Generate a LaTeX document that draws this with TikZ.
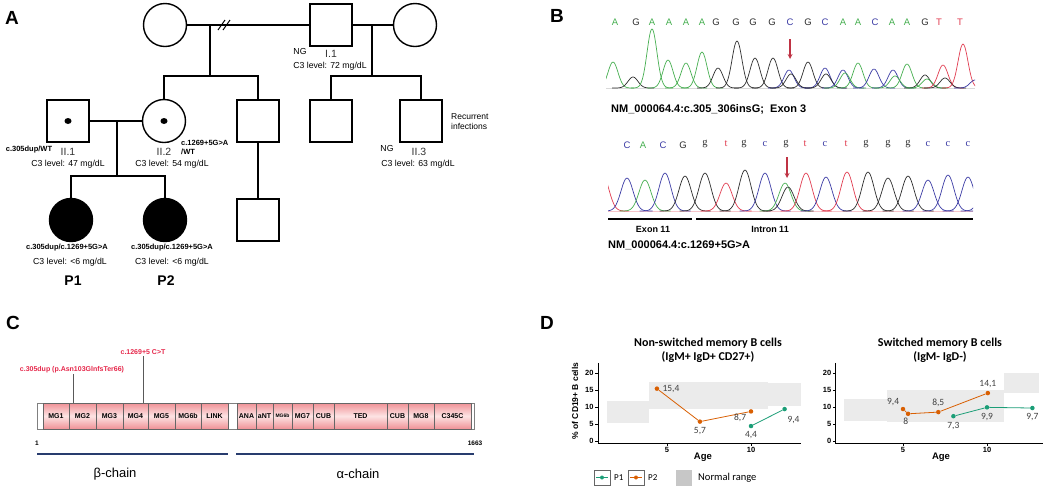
\documentclass[tikz,border=0pt]{standalone}
\usepackage{fontspec}
\setmainfont{Liberation Sans}
\newfontfamily\calfont{Carlito}
\newfontfamily\serfont{Liberation Serif}
\usetikzlibrary{positioning}

\definecolor{agreen}{RGB}{70,175,80}
\definecolor{cblue}{RGB}{60,60,165}
\definecolor{tred}{RGB}{225,60,80}
\definecolor{gdark}{RGB}{45,45,45}
\definecolor{domedge}{RGB}{240,145,150}
\definecolor{dommid}{RGB}{253,228,228}
\definecolor{mutred}{RGB}{230,40,75}
\definecolor{chainblue}{RGB}{40,60,110}
\definecolor{ptone}{RGB}{27,158,119}
\definecolor{pttwo}{RGB}{217,95,2}
\definecolor{normgray}{RGB}{235,235,235}

\newcommand{\fs}[1]{\fontsize{#1}{#1}\selectfont}

% one chromatogram: baseline, peak width, list of centre/height/colour
\newcommand{\trace}[3]{%
  \foreach \c/\h/\col in {#3}{%
    \pgfmathsetmacro{\lo}{\c-3*#2}%
    \pgfmathsetmacro{\hi}{\c+3*#2}%
    \draw[\col, line width=0.7pt] plot[domain=\lo:\hi, samples=40, smooth] (\x,{#1-\h*exp(-((\x-\c)/#2)^2)});
  }}

\tikzset{
  ped/.style={line width=1.4pt},
  male/.style={ped, draw, minimum size=42pt, inner sep=0pt},
  female/.style={ped, draw, circle, minimum size=43pt, inner sep=0pt},
  sick/.style={fill=black},
  panel/.style={font=\bfseries\fs{19}, inner sep=0pt},
  gen/.style={font=\fs{10.5}, text=black!80, inner sep=0pt},
  c3/.style={font=\fs{8.7}, inner sep=0pt},
  geno/.style={font=\bfseries\fs{7.5}, inner sep=0pt},
  patient/.style={font=\bfseries\fs{14}, inner sep=0pt},
  seq/.style={font=\fs{9.5}, inner sep=0pt},
  capt/.style={font=\bfseries\fs{11}, anchor=west, inner sep=0pt},
  exlbl/.style={font=\bfseries\fs{9}, inner sep=0pt},
  dom/.style={draw=black!60, top color=domedge, bottom color=domedge, middle color=dommid},
  domlbl/.style={font=\bfseries\fs{7}, inner sep=0pt},
  mut/.style={font=\bfseries\fs{7}, text=mutred, inner sep=1pt},
  chain/.style={chainblue, line width=1.1pt},
  axis/.style={line width=0.8pt},
  tick/.style={font=\bfseries\fs{7.5}, inner sep=1.5pt},
  dot/.style={circle, fill, inner sep=0pt, minimum size=4.5pt},
  val/.style={font=\calfont\fs{9.5}, text=black!75, inner sep=1pt},
  ttl/.style={font=\calfont\bfseries\fs{12}, inner sep=0pt},
}

\begin{document}
\begin{tikzpicture}[x=1pt, y=-1pt]
  \fill[white] (0,0) rectangle (1053,491);
  \useasboundingbox (0,0) rectangle (1053,491);

  % ---------------- A: pedigree
  \node[panel] (pa) at (12,18) {A};

  \node[female] (gm) at (165,25) {};
  \node[male] (I1) at (331,25) {};
  \node[female] (w2) at (415,25) {};
  \draw[ped] (gm) -- (I1);
  \draw[line width=1pt] (218,30) -- (225,20) (223,30) -- (230,20);
  \draw[ped] (I1) -- (w2);

  \node[male] (II1) at (68,121) {};
  \node[female] (II2) at (164,121) {};
  \node[male] (u1) at (258,121) {};
  \node[male] (b1) at (331,121) {};
  \node[male] (II3) at (421,121) {};
  \node[female, sick] (P1) at (71,220) {};
  \node[female, sick] (P2) at (165,220) {};
  \node[male] (u2) at (258,220) {};
  \fill (II1.center) ellipse[x radius=3.5pt, y radius=3pt];
  \fill (II2.center) ellipse[x radius=3.5pt, y radius=3pt];

  \coordinate (m1) at (210,25);
  \coordinate (s1) at (210,76);
  \draw[ped] (m1) -- (s1);
  \draw[ped] (II2) |- (s1) -| (u1);
  \coordinate (m2) at (372,25);
  \coordinate (s2) at (372,76);
  \draw[ped] (m2) -- (s2);
  \draw[ped] (b1) |- (s2) -| (II3);
  \draw[ped] (II1) -- (II2);
  \coordinate (m3) at (117,121);
  \coordinate (s3) at (117,176);
  \draw[ped] (m3) -- (s3);
  \draw[ped] (P1) |- (s3) -| (P2);
  \draw[ped] (u1) -- (u2);

  \node[c3] (ngI1) at (300,52) {NG};
  \node[gen] (lI1) at (331,54) {I.1};
  \node[c3] (c3I1) at (330,66) {C3 level: 72 mg/dL};
  \node[geno] (gII1) at (29,150) {c.305dup/WT};
  \node[gen] (lII1) at (68,152) {II.1};
  \node[c3] (c3II1) at (68,164) {C3 level: 47 mg/dL};
  \node[gen] (lII2) at (164,152) {II.2};
  \node[geno, anchor=west, align=left] (gII2) at (181,147.5) {c.1269+5G>A\\[1.5pt]/WT};
  \node[c3] (c3II2) at (172,164) {C3 level: 54 mg/dL};
  \node[c3] (ngII3) at (387,148) {NG};
  \node[gen] (lII3) at (419,152) {II.3};
  \node[c3] (c3II3) at (418,164) {C3 level: 63 mg/dL};
  \node[font=\fs{8.5}, anchor=west, align=left, inner sep=0pt] (rec) at (451,122) {Recurrent\\[1.5pt]infections};
  \node[geno] (gP1) at (67,248) {c.305dup/c.1269+5G>A};
  \node[c3] (c3P1) at (70,262) {C3 level: <6 mg/dL};
  \node[patient] (nP1) at (73,281) {P1};
  \node[geno] (gP2) at (172,248) {c.305dup/c.1269+5G>A};
  \node[c3] (c3P2) at (172,262) {C3 level: <6 mg/dL};
  \node[patient] (nP2) at (166,281) {P2};

  % ---------------- B: chromatograms
  \node[panel] (pb) at (557,16) {B};
  \foreach \lx/\lt/\col in {615/A/agreen, 636/G/gdark, 652/A/agreen, 669/A/agreen, 686/A/agreen,
      702/A/agreen, 716/G/gdark, 736/G/gdark, 753/G/gdark, 772/G/gdark, 790/C/cblue, 808/G/gdark,
      825/C/cblue, 843/A/agreen, 858/A/agreen, 875/C/cblue, 892/A/agreen, 907/A/agreen, 925/G/gdark,
      939/T/tred, 960/T/tred}
    \node[seq, text=\col] (ta\lx) at (\lx,22) {\lt};
  \draw[black!15] (606,88) -- (975,88);
  \begin{scope}
    \clip (606,20) rectangle (975,90);
    \trace{88}{7}{613/26/agreen, 633/11/gdark, 652/59/agreen, 668/28/agreen, 686/25/agreen,
      702/36/agreen, 718/20/gdark, 737/47/gdark, 755/30/gdark, 773/30/gdark, 789/18/cblue,
      791/14/gdark, 808/26/gdark, 825/20/cblue, 826/14/gdark, 843/18/cblue, 845/15/agreen,
      858/25/agreen, 874/19/cblue, 893/18/cblue, 895/12/agreen, 907/24/agreen, 925/13/gdark,
      927/9/agreen, 943/23/tred, 945/10/gdark, 963/44/tred, 975/8/cblue}
  \end{scope}
  \coordinate (ar1a) at (790,39);
  \coordinate (ar1b) at (790,59);
  \draw[-stealth, tred!85!black, line width=1.2pt] (ar1a) -- (ar1b);
  \node[capt] (cap1) at (611,109) {NM\_000064.4:c.305\_306insG;\ \ Exon 3};

  \foreach \lx/\lt/\col in {627/C/cblue, 643/A/agreen, 663/C/cblue, 683/G/gdark}
    \node[seq, text=\col] (tb\lx) at (\lx,145) {\lt};
  \foreach \lx/\lt/\col in {705/g/gdark, 726/t/tred, 744/g/gdark, 765/c/cblue, 786/g/gdark,
      805/t/tred, 825/c/cblue, 846/t/tred, 866/g/gdark, 888/g/gdark, 908/g/gdark, 928/c/cblue,
      948/c/cblue, 968/c/cblue}
    \node[seq, font=\serfont\fs{10.5}, text=\col] (tb\lx) at (\lx,144) {\lt};
  \draw[tred!30] (608,211) -- (973,211);
  \begin{scope}
    \clip (608,150) rectangle (973,213);
    \trace{211}{8.5}{603/35/tred, 627/33/cblue, 645/31/agreen, 665/38/cblue, 685/35/gdark,
      705/38/gdark, 726/28/tred, 745/41/gdark, 765/38/cblue, 785/28/agreen, 788/24/gdark,
      806/38/tred, 826/34/cblue, 847/39/tred, 868/39/gdark, 888/33/gdark, 908/35/gdark,
      928/31/cblue, 948/36/cblue, 968/34/cblue, 986/30/cblue}
  \end{scope}
  \coordinate (ar2a) at (787,157);
  \coordinate (ar2b) at (787,178);
  \draw[-stealth, tred!85!black, line width=1.2pt] (ar2a) -- (ar2b);
  \draw[line width=1.2pt] (608,219) -- (692,219);
  \draw[line width=1.2pt] (696,219) -- (973,219);
  \node[exlbl] (ex11) at (653,229) {Exon 11};
  \node[exlbl] (in11) at (770,229) {Intron 11};
  \node[capt] (cap2) at (608,245) {NM\_000064.4:c.1269+5G>A};

  % ---------------- C: protein domains
  \node[panel] (pc) at (13,323) {C};
  \coordinate (m305) at (73,403);
  \node[mut] (l305) at (72,370) {c.305dup (p.Asn103GlnfsTer66)};
  \draw[black!65, line width=0.7pt] (m305) -- (m305 |- l305.south);
  \coordinate (m1269) at (143,403);
  \node[mut] (l1269) at (143,352) {c.1269+5 C>T};
  \draw[black!65, line width=0.7pt] (m1269) -- (l1269);
  \draw[black!50, line width=0.8pt] (37,403) rectangle (474,429);
  \foreach \a/\b/\t in {43/69/MG1, 69/96/MG2, 96/123/MG3, 123/148/MG4, 148/175/MG5,
      175/201/MG6b, 201/228/LINK, 237/256/ANA, 256/273/aNT, 273/292/{\fs{5}MG6b},
      292/313/MG7, 313/334/CUB, 334/387/TED, 387/408/CUB, 408/434/MG8, 434/471/C345C}{
    \draw[dom] (\a,403) rectangle (\b,429);
    \node[domlbl] (dom\a) at ({(\a+\b)/2},416) {\t};
  }
  \node[domlbl, font=\bfseries\fs{6.5}] (n1) at (37,443) {1};
  \node[domlbl, font=\bfseries\fs{6.5}] (n1663) at (475,443) {1663};
  \draw[chain] (37,454) -- (228,454);
  \draw[chain] (236,454) -- (474,454);
  \node[font=\fs{13}, inner sep=0pt] (beta) at (115,474) {β-chain};
  \node[font=\fs{13}, inner sep=0pt] (alpha) at (358,474) {α-chain};

  % ---------------- D: B cell plots
  \node[panel] (pd) at (547,323) {D};
  \node[ttl] (t1a) at (708,343) {Non-switched memory B cells};
  \node[ttl] (t1b) at (708,357) {(IgM+ IgD+ CD27+)};
  \node[ttl] (t2a) at (940,343) {Switched memory B cells};
  \node[ttl] (t2b) at (940,357) {(IgM- IgD-)};
  \node[font=\bfseries\fs{8.5}, rotate=90, inner sep=0pt] (ylab) at (575,401) {\% of CD19+ B cells};

  \begin{scope}[shift={(583,441)}, x=16.8pt, y=3.4pt]
    \fill[normgray] (1.43,5.3) rectangle (3.93,11.8);
    \fill[normgray] (3.93,9.4) rectangle (11,17.4);
    \fill[normgray] (11,10.3) rectangle (13,17);
    \draw[axis] (0.9,23) -- (0.9,-0.6) -- (13,-0.6);
    \foreach \v in {0,5,10,15,20}
      \draw[axis] (0.9,\v) -- (0.74,\v) node[left, tick] (ly\v) {\v};
    \foreach \a in {5,10}
      \draw[axis] (\a,-0.6) -- (\a,-1.4) node[below, tick] (lx\a) {\a};
    \node[font=\bfseries\fs{9.5}, inner sep=0pt] (lage) at (7.14,-4.8) {Age};
    \node[dot, pttwo] (la1) at (4.4,15.4) {};
    \node[dot, pttwo] (la2) at (6.96,5.7) {};
    \node[dot, pttwo] (la3) at (10,8.7) {};
    \node[dot, ptone] (lb1) at (10,4.4) {};
    \node[dot, ptone] (lb2) at (12,9.4) {};
    \draw[pttwo, line width=0.8pt] (la1) -- (la2) -- (la3);
    \draw[ptone, line width=0.8pt] (lb1) -- (lb2);
    \node[val, right=2pt of la1] (va1) {15,4};
    \node[val, below=2pt of la2] (va2) {5,7};
    \node[val, below left=0pt and 2pt of la3] (va3) {8,7};
    \node[val, below=2pt of lb1] (vb1) {4,4};
    \node[val, below right=4pt and 0pt of lb2] (vb2) {9,4};
  \end{scope}

  \begin{scope}[shift={(819,441)}, x=16.8pt, y=3.4pt]
    \fill[normgray] (1.5,5.9) rectangle (4.05,12.35);
    \fill[normgray] (4.05,5.6) rectangle (11,15);
    \fill[normgray] (11,14.1) rectangle (13.1,20);
    \draw[axis] (1,23) -- (1,-0.6) -- (13.33,-0.6);
    \foreach \v in {0,5,10,15,20}
      \draw[axis] (1,\v) -- (0.84,\v) node[left, tick] (ry\v) {\v};
    \foreach \a in {5,10}
      \draw[axis] (\a,-0.6) -- (\a,-1.4) node[below, tick] (rx\a) {\a};
    \node[font=\bfseries\fs{9.5}, inner sep=0pt] (rage) at (7.26,-4.8) {Age};
    \node[dot, pttwo] (ra1) at (5,9.4) {};
    \node[dot, pttwo] (ra2) at (5.3,8) {};
    \node[dot, pttwo] (ra3) at (7.1,8.5) {};
    \node[dot, pttwo] (ra4) at (10.05,14.1) {};
    \node[dot, ptone] (rb1) at (8,7.3) {};
    \node[dot, ptone] (rb2) at (10,9.9) {};
    \node[dot, ptone] (rb3) at (12.7,9.7) {};
    \draw[pttwo, line width=0.8pt] (ra1) -- (ra2) -- (ra3) -- (ra4);
    \draw[ptone, line width=0.8pt] (rb1) -- (rb2) -- (rb3);
    \node[val, above left=0pt and 1pt of ra1] (wa1) {9,4};
    \node[val, below left=1pt and -3pt of ra2] (wa2) {8};
    \node[val, above=2pt of ra3] (wa3) {8,5};
    \node[val, above=2pt of ra4] (wa4) {14,1};
    \node[val, below=2pt of rb1] (wb1) {7,3};
    \node[val, below=2pt of rb2] (wb2) {9,9};
    \node[val, below=2pt of rb3] (wb3) {9,7};
  \end{scope}

  % legend
  \node[draw=black!60, minimum width=16pt, minimum height=15pt, inner sep=0pt] (k1) at (602,477.5) {};
  \draw[ptone, line width=0.8pt] (k1.west) ++(2pt,0) -- ([xshift=-2pt]k1.east);
  \fill[ptone] (k1.center) circle[radius=2pt];
  \node[font=\calfont\fs{9}, anchor=west, inner sep=0pt] (kl1) at (614,477.5) {P1};
  \node[draw=black!60, minimum width=16pt, minimum height=15pt, inner sep=0pt] (k2) at (636,477.5) {};
  \draw[pttwo, line width=0.8pt] (k2.west) ++(2pt,0) -- ([xshift=-2pt]k2.east);
  \fill[pttwo] (k2.center) circle[radius=2pt];
  \node[font=\calfont\fs{9}, anchor=west, inner sep=0pt] (kl2) at (648,477.5) {P2};
  \node[fill=black!22, minimum width=16pt, minimum height=16pt, inner sep=0pt] (k3) at (684,477.5) {};
  \node[font=\calfont\fs{10.5}, anchor=west, inner sep=0pt] (kl3) at (698,477.5) {Normal range};
\end{tikzpicture}
\end{document}
